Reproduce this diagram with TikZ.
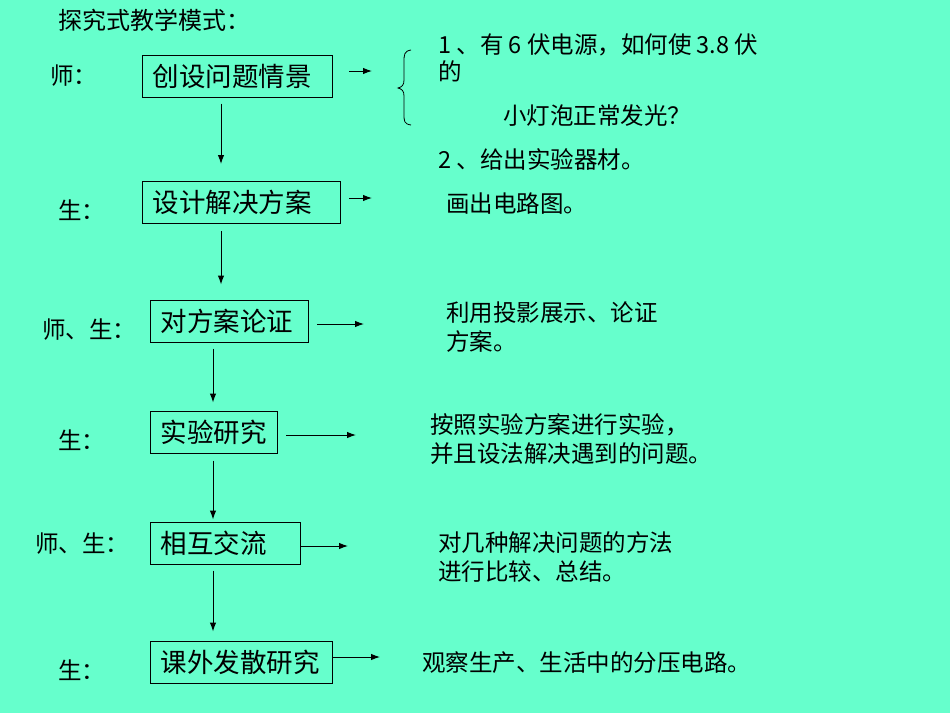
\documentclass[tikz,border=0pt]{standalone}
\usepackage{fontspec}
\setmainfont{Noto Sans CJK SC}
\usetikzlibrary{arrows.meta}
\definecolor{bg}{HTML}{66FFCC}
\begin{document}
\begin{tikzpicture}[x=1pt,y=-1pt,
  every node/.style={inner sep=0pt},
  lbl/.style={anchor=west,font=\fontsize{23.5}{25}\selectfont},
  txt/.style={anchor=west,align=left,font=\fontsize{23.5}{29}\selectfont},
  box/.style={draw,line width=1pt,anchor=west,minimum height=42pt,inner xsep=10pt,align=left,font=\fontsize{26.5}{28}\selectfont},
  arr/.style={line width=1pt,-{Latex[length=9pt,width=6.5pt]}}]
\fill[bg] (0,0) rectangle (950,713);
\useasboundingbox (0,0) rectangle (950,713);

\node[lbl,font=\fontsize{24}{25}\selectfont] (title) at (58,20) {探究式教学模式：};

% labels
\node[lbl] (l1) at (50,76) {师：};
\node[lbl] (l2) at (58,210) {生：};
\node[lbl] (l3) at (42,330) {师、生：};
\node[lbl] (l4) at (58,440) {生：};
\node[lbl] (l5) at (35,544) {师、生：};
\node[lbl] (l6) at (58,670) {生：};

% boxes
\node[box,text width=170pt] (b1) at (142,76) {创设问题情景};
\node[box,text width=178pt] (b2) at (142,202.5) {设计解决方案};
\node[box,text width=138pt] (b3) at (150,321) {对方案论证};
\node[box,text width=107pt] (b4) at (150,432) {实验研究};
\node[box,text width=130pt] (b5) at (150,543) {相互交流};
\node[box,text width=162pt] (b6) at (150,662) {课外发散研究};

% right texts
\node[txt] (t1a) at (438,45) {1 、有 6 伏电源，如何使 3.8 伏};
\node[txt] (t1b) at (438,71) {的};
\node[txt] (t1c) at (503,116) {小灯泡正常发光？};
\node[txt] (t1d) at (438,160) {2 、给出实验器材。};
\node[txt] (t2) at (446,204) {画出电路图。};
\node[txt] (t3) at (446,327.5) {利用投影展示、论证\\方案。};
\node[txt] (t4) at (430,439) {按照实验方案进行实验，\\并且设法解决遇到的问题。};
\node[txt] (t5) at (438,557.5) {对几种解决问题的方法\\进行比较、总结。};
\node[txt] (t6) at (422,663) {观察生产、生活中的分压电路。};

% brace
\draw[line width=0.8pt] (411,50) .. controls (404,51) and (404,55) .. (404,62)
  -- (404,80) .. controls (404,85) and (402,87) .. (398,88)
  .. controls (402,89) and (404,91) .. (404,96)
  -- (404,114) .. controls (404,121) and (404,124) .. (411,125);

% down arrows
\coordinate (xa) at (221,0);
\coordinate (xb) at (213,0);
\draw[arr,shorten <=6pt,shorten >=17pt] (xa |- b1.south) -- (xa |- b2.north);
\draw[arr,shorten <=7pt,shorten >=15pt] (xa |- b2.south) -- (xa |- b3.north);
\draw[arr,shorten <=6pt,shorten >=8pt] (xb |- b3.south) -- (xb |- b4.north);
\draw[arr,shorten <=7pt,shorten >=2pt] (xb |- b4.south) -- (xb |- b5.north);
\draw[arr,shorten <=6pt,shorten >=9pt] (xb |- b5.south) -- (xb |- b6.north);

% right arrows
\coordinate (e1) at (372,71);
\coordinate (e2) at (372,198);
\coordinate (e3) at (364,324);
\coordinate (e4) at (356,435);
\coordinate (e5) at (348,546);
\coordinate (e6) at (380,657);
\draw[arr] (b1.east |- e1) ++(16,0) -- (e1);
\draw[arr] (b2.east |- e2) ++(8,0) -- (e2);
\draw[arr] (b3.east |- e3) ++(8,0) -- (e3);
\draw[arr] (b4.east |- e4) ++(8,0) -- (e4);
\draw[arr] (b5.east |- e5) -- (e5);
\draw[arr] (b6.east |- e6) -- (e6);
\end{tikzpicture}
\end{document}
